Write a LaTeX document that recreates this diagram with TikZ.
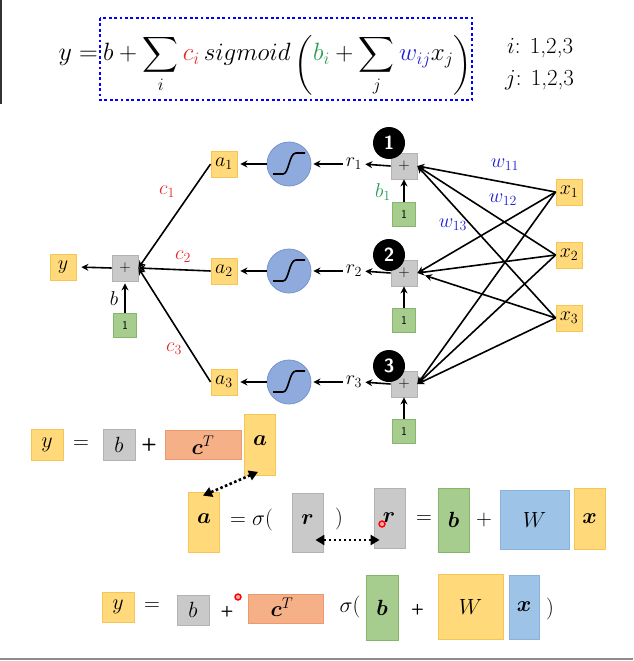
\RequirePackage{fix-cm}
\documentclass[tikz,border=0pt]{standalone}
\usepackage{amsmath,bm}
\usepackage{fontspec}
\usetikzlibrary{arrows.meta}
\newcommand\myfs[1]{\fontsize{#1}{#1}\selectfont}
\definecolor{yfill}{RGB}{255,217,122}
\definecolor{ydraw}{RGB}{245,198,84}
\definecolor{gfill}{RGB}{201,201,201}
\definecolor{gdraw}{RGB}{178,178,178}
\definecolor{grfill}{RGB}{166,204,142}
\definecolor{grdraw}{RGB}{132,182,110}
\definecolor{cfill}{RGB}{143,170,220}
\definecolor{cdraw}{RGB}{118,148,205}
\definecolor{sfill}{RGB}{246,176,136}
\definecolor{sdraw}{RGB}{236,152,112}
\definecolor{wfill}{RGB}{157,195,230}
\definecolor{wdraw}{RGB}{138,178,220}
\definecolor{cred}{RGB}{228,40,40}
\definecolor{cblue}{RGB}{30,30,215}
\definecolor{cgreen}{RGB}{36,158,80}
\begin{document}
\begin{tikzpicture}[x=1pt,y=-1pt,
  box/.style={draw, line width=0.8pt, inner sep=0pt, anchor=center},
  ybox/.style={box, fill=yfill, draw=ydraw},
  gbox/.style={box, fill=gfill, draw=gdraw},
  grbox/.style={box, fill=grfill, draw=grdraw},
  sbox/.style={box, fill=sfill, draw=sdraw},
  wbox/.style={box, fill=wfill, draw=wdraw},
  sq/.style={minimum width=26pt, minimum height=26pt},
  one/.style={grbox, minimum width=23pt, minimum height=24pt, font=\sffamily\myfs{12}},
  plus/.style={gbox, sq, font=\sffamily\myfs{15}},
  sig/.style={circle, fill=cfill, draw=cdraw, line width=0.8pt, minimum size=44pt, inner sep=0pt},
  num/.style={circle, fill=black, minimum size=32pt, inner sep=0pt, text=white, font=\sffamily\bfseries\myfs{19}},
  lab/.style={inner sep=0pt, font=\myfs{20}},
  arr/.style={line width=1.6pt, -{Stealth[length=7pt,width=7pt]}},
  dotarr/.style={line width=2.6pt, dash pattern=on 2.6pt off 2.4pt, {Triangle[length=9pt,width=10pt]}-{Triangle[length=9pt,width=10pt]}},
  eqtxt/.style={inner sep=0pt, font=\myfs{22}},
  laser/.style={circle, draw=red, fill=red!35!white, line width=1.4pt, minimum size=6pt, inner sep=0pt}
]
\useasboundingbox (0,0) rectangle (633,661);
% frame lines
\draw[black!80, line width=2pt] (1,0) -- (1,104);
\draw[black!45, line width=2pt] (0,659) -- (633,659);

% ---------- top formula ----------
\draw[blue, line width=2.8pt, dash pattern=on 2.8pt off 2.6pt] (100,18) rectangle (472,100);
\node[anchor=base east, inner sep=0pt, font=\myfs{26}] (eqy) at (98,61) {$y=$};
\node[anchor=base west, inner sep=0pt, font=\myfs{25}] (eq) at (103,61)
  {$\displaystyle b+\sum_i {\color{cred}c_i}\, sigmoid\,\raisebox{-11pt}{$\displaystyle\biggl($}{\color{cgreen}b_i}+\sum_j {\color{cblue}w_{ij}}x_j\raisebox{-11pt}{$\displaystyle\biggr)$}$};
\node[anchor=base west, inner sep=0pt, font=\myfs{23}] (ii) at (507,53) {$i$: 1,2,3};
\node[anchor=base west, inner sep=0pt, font=\myfs{23}] (jj) at (505,85) {$j$: 1,2,3};

% ---------- network ----------
\node[ybox, sq, font=\myfs{20}] (y) at (63,267) {$y$};
\node[plus] (p0) at (125,268) {+};
\node[one] (o0) at (125,325) {1};
\node[lab] (bl) at (114,299) {$b$};

\foreach \i/\yy in {1/164,2/271,3/382}{
  \node[ybox, sq, font=\myfs{20}] (a\i) at (224,\yy) {$a_\i$};
  \node[sig] (s\i) at (289,\yy) {};
  \draw[line width=1.6pt, shift={(s\i.center)}] (-16,10) -- (-6,10) .. controls (0,10) and (0,-11) .. (7,-11) -- (16,-11);
  \node[lab] (r\i) at (354,\yy) {$r_\i$};
  \node[plus] (p\i) at (404,\yy+2) {+};
}
\node[one] (o1) at (404,214) {1};
\node[one] (o2) at (404,320) {1};
\node[one] (o3) at (404,431) {1};
\node[num] (n1) at (389,143) {1};
\node[num] (n2) at (389,255) {2};
\node[num] (n3) at (389,366) {3};
\node[lab, text=cgreen] (b1) at (383,192) {$b_1$};

\node[ybox, sq, font=\myfs{20}] (x1) at (569,192) {$x_1$};
\node[ybox, sq, font=\myfs{20}] (x2) at (569,255) {$x_2$};
\node[ybox, sq, font=\myfs{20}] (x3) at (569,318) {$x_3$};

\node[lab, text=cred] (c1) at (167,192) {$c_1$};
\node[lab, text=cred] (c2) at (183,257) {$c_2$};
\node[lab, text=cred] (c3) at (174,349) {$c_3$};
\node[lab, text=cblue] (w11) at (505,165) {$w_{11}$};
\node[lab, text=cblue] (w12) at (503,200) {$w_{12}$};
\node[lab, text=cblue] (w13) at (453,225) {$w_{13}$};

% arrows
\draw[arr, shorten >=5pt] (p0.west) -- (y.east);
\draw[arr, shorten >=2pt] (o0.north) -- (p0.south);
\foreach \i in {1,2,3}{
  \draw[arr] (a\i.west) -- (p0.east);
  \draw[arr, shorten >=3pt] (s\i.west) -- (a\i.east);
  \draw[arr, shorten >=2pt, shorten <=3pt] (r\i.west) -- (s\i.east);
  \draw[arr, shorten >=3pt] (p\i.west) -- (r\i.east);
  \draw[arr] (o\i.north) -- (p\i.south);
}
\foreach \j in {1,2,3}{
  \draw[arr] (x\j.west) -- (p1.east);
  \draw[arr] (x\j.west) -- (p3.east);
}
\draw[arr] (x1.west) -- (p2.east);
\draw[arr] (x2.west) -- (p2.east);
\draw[arr, shorten >=8pt] (x3.west) -- (p2.east);

% ---------- vector form row 1 ----------
\node[ybox, minimum width=32pt, minimum height=31pt, font=\myfs{22}] (vy) at (47,445) {$y$};
\node[eqtxt] (veq1) at (81,445) {$=$};
\node[gbox, minimum width=32pt, minimum height=31pt, font=\myfs{22}] (vb) at (119,445) {$b$};
\node[eqtxt, font=\sffamily\bfseries\myfs{18}] (vp1) at (149,445) {+};
\node[sbox, minimum width=76pt, minimum height=29pt, font=\myfs{22}] (vc) at (203,445) {$\bm{c}^T$};
\node[ybox, minimum width=31pt, minimum height=61pt] (vaT) at (260,445) {};
\node[eqtxt] (vaTt) at (260,441) {$\bm{a}$};

% row 2
\node[ybox, minimum width=31pt, minimum height=60pt] (vaB) at (204,522) {};
\node[eqtxt] (vaBt) at (204,519) {$\bm{a}$};
\node[eqtxt, anchor=west] (vsig) at (230,520) {$=\sigma($};
\node[gbox, minimum width=31pt, minimum height=59pt] (vrA) at (307.5,522.5) {};
\node[eqtxt] (vrAt) at (307.5,520) {$\bm{r}$};
\node[eqtxt] (vcl) at (339,519) {$)$};
\node[gbox, minimum width=31pt, minimum height=60pt] (vrB) at (389.5,518) {};
\node[eqtxt] (vrBt) at (389,518) {$\bm{r}$};
\node[eqtxt] (veq2) at (424,520) {$=$};
\node[grbox, minimum width=31pt, minimum height=64pt, font=\myfs{22}] (vb2) at (453.5,520) {$\bm{b}$};
\node[eqtxt] (vp2) at (484,520) {$+$};
\node[wbox, minimum width=69pt, minimum height=59pt, font=\myfs{22}] (vW) at (534.5,519.5) {$W$};
\node[ybox, minimum width=31pt, minimum height=61pt, font=\myfs{22}] (vx) at (589.5,518.5) {$\bm{x}$};

\draw[dotarr] ([xshift=-2pt,yshift=4pt]vaT.south) -- ([xshift=-1pt,yshift=-4pt]vaB.north);
\draw[dotarr] ([xshift=-8pt,yshift=-17.5pt]vrA.east) -- ([xshift=6pt,yshift=-22pt]vrB.west);
\node[laser] (las1) at (382,524) {};

% row 3
\node[ybox, minimum width=32pt, minimum height=30pt, font=\myfs{22}] (wy) at (118,607) {$y$};
\node[eqtxt] (weq) at (152,607) {$=$};
\node[gbox, minimum width=32pt, minimum height=30pt, font=\myfs{22}] (wb) at (193,610) {$b$};
\node[eqtxt, font=\sffamily\bfseries\myfs{15}] (wp1) at (227,612) {+};
\node[sbox, minimum width=75pt, minimum height=29pt] (wc) at (285.5,608.5) {};
\node[eqtxt] (wct) at (282,607) {$\bm{c}^T$};
\node[laser] (las2) at (238,597) {};
\node[eqtxt] (wsig) at (350,607) {$\sigma($};
\node[grbox, minimum width=32pt, minimum height=65pt, font=\myfs{22}] (wb2) at (382,607.5) {$\bm{b}$};
\node[eqtxt, font=\sffamily\bfseries\myfs{15}] (wp2) at (417.5,610) {+};
\node[ybox, minimum width=65pt, minimum height=65pt, font=\myfs{22}] (wW) at (470.5,606.5) {$W$};
\node[wbox, minimum width=30pt, minimum height=64pt, font=\myfs{22}] (wx) at (524,607) {$\bm{x}$};
\node[eqtxt] (wcl) at (550,609) {$)$};
\end{tikzpicture}
\end{document}
